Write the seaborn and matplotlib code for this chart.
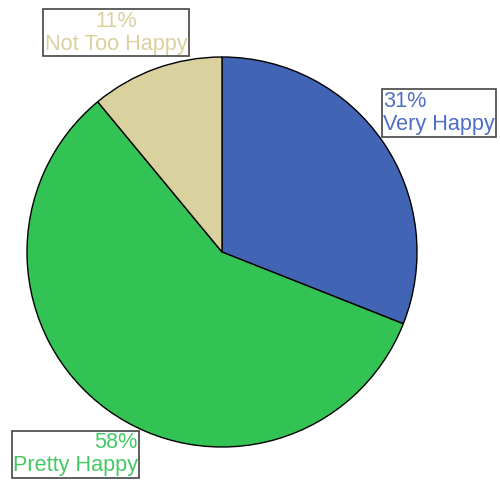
import matplotlib
matplotlib.use("Agg")
import matplotlib.pyplot as plt
import seaborn as sns

# data
labels = ["Very Happy", "Pretty Happy", "Not Too Happy"]
shares = [31, 58, 11]
colors = ["#4264b4", "#33c354", "#d9d19e"]
text_colors = ["#4f6fc4", "#45c965", "#d9d19e"]

sns.set_theme(style="white")
plt.rcParams['font.family'] = ['Liberation Sans', 'DejaVu Sans']

fig = plt.figure(figsize=(5, 4.82), dpi=100)
ax = fig.add_axes([0, 0, 1, 1])

ax.pie(shares, colors=colors, startangle=90, counterclock=False,
       center=(222, 230), radius=195,
       wedgeprops={'edgecolor': 'black', 'linewidth': 1})

ax.set_xlim(0, 500)
ax.set_ylim(0, 482)
ax.set_aspect('equal')
ax.axis('off')

# label positions (x, y, alignment) in pixel-like coordinates
label_pos = [(383, 369, 'left'), (138, 28, 'right'), (116, 449, 'center')]

for lab, pct, col, (x, y, ha) in zip(labels, shares, text_colors, label_pos):
    ax.text(x, y, f"{pct}%\n{lab}", color=col, fontsize=15.6, ha=ha, va='center',
            multialignment=ha, linespacing=1.15,
            bbox=dict(boxstyle='square,pad=0.06', facecolor='white',
                      edgecolor='#444444', linewidth=1.2))

fig.savefig("out.png", dpi=100)
